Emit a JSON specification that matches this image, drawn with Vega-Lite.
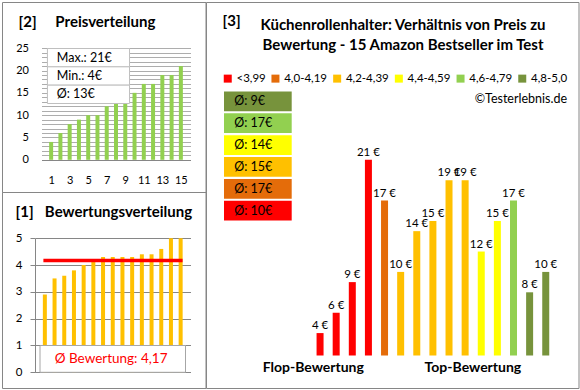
{
  "$schema": "https://vega.github.io/schema/vega-lite/v6.json",
  "padding": 1,
  "background": "white",
  "config": {
    "view": {"stroke": "#868686", "strokeWidth": 1},
    "font": "Lato",
    "axis": {"labelFont": "Lato", "labelColor": "#000000", "titleFont": "Lato", "titleColor": "#000000", "grid": false, "domain": false, "ticks": false, "title": null, "labelFlush": false, "labelOverlap": false, "labelBound": false},
    "title": {"font": "Lato", "fontWeight": "bold", "color": "#000000", "frame": "group"},
    "text": {"font": "Lato", "color": "#000000"}
  },
  "datasets": {
    "products": [
      {"rank": 1, "rating": 2.9, "price": 4, "cat": "<3,99", "label": "4 €"},
      {"rank": 2, "rating": 3.5, "price": 6, "cat": "<3,99", "label": "6 €"},
      {"rank": 3, "rating": 3.6, "price": 9, "cat": "<3,99", "label": "9 €"},
      {"rank": 4, "rating": 3.8, "price": 21, "cat": "<3,99", "label": "21 €"},
      {"rank": 5, "rating": 4.0, "price": 17, "cat": "4,0-4,19", "label": "17 €"},
      {"rank": 6, "rating": 4.2, "price": 10, "cat": "4,2-4,39", "label": "10 €"},
      {"rank": 7, "rating": 4.3, "price": 14, "cat": "4,2-4,39", "label": "14 €"},
      {"rank": 8, "rating": 4.3, "price": 15, "cat": "4,2-4,39", "label": "15 €"},
      {"rank": 9, "rating": 4.3, "price": 19, "cat": "4,2-4,39", "label": "19 €"},
      {"rank": 10, "rating": 4.3, "price": 19, "cat": "4,2-4,39", "label": "19 €"},
      {"rank": 11, "rating": 4.4, "price": 12, "cat": "4,4-4,59", "label": "12 €"},
      {"rank": 12, "rating": 4.4, "price": 15, "cat": "4,4-4,59", "label": "15 €"},
      {"rank": 13, "rating": 4.6, "price": 17, "cat": "4,6-4,79", "label": "17 €"},
      {"rank": 14, "rating": 5.0, "price": 8, "cat": "4,8-5,0", "label": "8 €"},
      {"rank": 15, "rating": 5.0, "price": 10, "cat": "4,8-5,0", "label": "10 €"}
    ],
    "pstats": [
      {"stat": "Max.: 21€"},
      {"stat": "Min.: 4€"},
      {"stat": "Ø: 13€"}
    ],
    "rstats": [
      {"label": "Ø Bewertung: 4,17", "mean": 4.17}
    ],
    "cats": [
      {"cat": "4,8-5,0", "avg": "Ø: 9€"},
      {"cat": "4,6-4,79", "avg": "Ø: 17€"},
      {"cat": "4,4-4,59", "avg": "Ø: 14€"},
      {"cat": "4,2-4,39", "avg": "Ø: 15€"},
      {"cat": "4,0-4,19", "avg": "Ø: 17€"},
      {"cat": "<3,99", "avg": "Ø: 10€"}
    ]
  },
  "hconcat": [
    {
      "vconcat": [
        {
          "width": 203.5,
          "height": 190,
          "title": {"text": "[2]\u2003\u2002Preisverteilung", "anchor": "start", "dx": 16.5, "offset": -28, "fontSize": 15},
          "layer": [
            {
              "data": {"name": "products"},
              "transform": [{"window": [{"op": "row_number", "as": "price_rank"}], "sort": [{"field": "price", "order": "ascending"}]}],
              "mark": {"type": "bar", "size": 4, "color": "#92D050"},
              "encoding": {
                "x": {"field": "price_rank", "type": "quantitative",
                  "scale": {"domain": [0.5, 15.5], "range": [39.5, 188.5], "nice": false, "zero": false},
                  "axis": {"values": [1, 3, 5, 7, 9, 11, 13, 15], "tickCount": 100, "format": "d", "offset": -32.2, "labelPadding": 15, "labelFontSize": 11, "labelOverlap": false, "labelFlush": false}},
                "y": {"field": "price", "type": "quantitative",
                  "scale": {"domain": [0, 25], "range": [157.8, 46.2], "nice": false},
                  "axis": {"values": [0,1,2,3,4,5,6,7,8,9,10,11,12,13,14,15,16,17,18,19,20,21,22,23,24,25], "tickCount": 100, "format": "d", "offset": -39.5, "labelPadding": 13, "labelFontSize": 11,
                    "labelOverlap": false,
                    "labelExpr": "datum.value % 5 === 0 ? datum.label : ''",
                    "grid": true, "gridColor": {"condition": {"test": "datum.value === 0", "value": "#868686"}, "value": "#ADADAD"}}}
              }
            },
            {
              "data": {"name": "pstats"},
              "encoding": {
                "y": {"field": "stat", "type": "nominal", "sort": null, "scale": {"range": [46.5, 101.5], "paddingInner": 0, "paddingOuter": 0}, "axis": null}
              },
              "layer": [
                {"mark": {"type": "rect", "fill": "white", "stroke": "#BFBFBF", "strokeWidth": 1},
                 "encoding": {"x": {"datum": 0.6, "type": "quantitative"}, "x2": {"datum": 9.46}}},
                {"mark": {"type": "text", "align": "left", "baseline": "middle", "fontSize": 12.5},
                 "encoding": {"x": {"datum": 1.61, "type": "quantitative"}, "text": {"field": "stat"}}}
              ]
            }
          ],
          "resolve": {"scale": {"y": "independent"}}
        },
        {
          "width": 203.5,
          "height": 196,
          "title": {"text": "[1]\u2003Bewertungsverteilung", "anchor": "start", "dx": 13.5, "offset": -28, "fontSize": 15},
          "layer": [
            {
              "data": {"name": "products"},
              "mark": {"type": "bar", "size": 4, "color": "#FFC000"},
              "encoding": {
                "x": {"field": "rank", "type": "quantitative",
                  "scale": {"domain": [0.5, 15.5], "range": [33, 188.5], "nice": false, "zero": false}, "axis": null},
                "y": {"field": "rating", "type": "quantitative",
                  "scale": {"domain": [0, 5], "range": [180.3, 46.2], "nice": false},
                  "axis": {"values": [0,0.25,0.5,0.75,1,1.25,1.5,1.75,2,2.25,2.5,2.75,3,3.25,3.5,3.75,4,4.25,4.5,4.75,5], "tickCount": 100, "format": "d",
                    "offset": -33, "labelPadding": 8, "labelFontSize": 11.5, "labelOverlap": false,
                    "labelExpr": "datum.value % 1 === 0 ? datum.label : ''",
                    "domain": true, "domainColor": "#868686",
                    "ticks": true, "tickSize": 5, "tickColor": "#868686",
                    "tickOpacity": {"condition": {"test": "datum.value % 1 === 0", "value": 1}, "value": 0},
                    "grid": true, "gridColor": {"condition": {"test": "datum.value % 1 === 0", "value": "#868686"}, "value": "#C8C8C8"}}}
              }
            },
            {
              "data": {"name": "rstats"},
              "mark": {"type": "rect", "fill": "white", "stroke": "#A6A6A6", "strokeWidth": 1},
              "encoding": {"x": {"datum": 0.5, "type": "quantitative"}, "x2": {"datum": 15.5}, "y": {"datum": 0, "type": "quantitative"}, "y2": {"datum": 1}}
            },
            {
              "data": {"name": "rstats"},
              "mark": {"type": "rule", "color": "#FF0000", "strokeWidth": 3.5},
              "encoding": {"x": {"datum": 0.85, "type": "quantitative"}, "x2": {"datum": 15.2}, "y": {"field": "mean", "type": "quantitative"}}
            },
            {
              "data": {"name": "rstats"},
              "mark": {"type": "text", "color": "#FF0000", "fontSize": 13.5, "align": "center", "baseline": "middle"},
              "encoding": {"x": {"datum": 7.83, "type": "quantitative"}, "y": {"datum": 0.5, "type": "quantitative"}, "text": {"field": "label"}}
            }
          ]
        }
      ],
      "spacing": 0,
      "bounds": "flush"
    },
    {
      "width": 372.5,
      "height": 386,
      "title": {"text": ["Küchenrollenhalter: Verhältnis von Preis zu", "Bewertung - 15 Amazon Bestseller im Test"], "anchor": "middle", "dx": 10.8, "offset": -51, "fontSize": 15, "lineHeight": 20},
      "layer": [
        {
          "data": {"name": "products"},
          "layer": [
            {
              "mark": {"type": "bar", "size": 7},
              "encoding": {
                "x": {"field": "rank", "type": "quantitative",
                  "scale": {"domain": [0.5, 15.5], "range": [101, 352.8], "nice": false, "zero": false},
                  "axis": {"values": [0.55, 10.45], "labelExpr": "datum.value < 5 ? 'Flop-Bewertung' : 'Top-Bewertung'",
                    "labelFlush": false, "labelOverlap": false, "labelBound": false,
                    "offset": -32.5, "labelPadding": 5, "labelFontSize": 14, "labelFontWeight": "bold"}},
                "y": {"field": "price", "type": "quantitative",
                  "scale": {"domain": [1.8, 21], "range": [353.5, 157.8], "nice": false, "zero": false},
                  "axis": {"labels": false, "title": "[3]", "titleAngle": 0, "titleAlign": "left", "titleBaseline": "top",
                    "titleX": 16, "titleY": 11.5, "titleFontSize": 15, "titleFontWeight": "bold"}},
                "y2": {"datum": 1.8},
                "color": {"field": "cat", "type": "nominal",
                  "scale": {"domain": ["<3,99", "4,0-4,19", "4,2-4,39", "4,4-4,59", "4,6-4,79", "4,8-5,0"],
                    "range": ["#FF0000", "#E46C0A", "#FFC000", "#FFFF00", "#92D050", "#77933C"]},
                  "legend": {"orient": "none", "legendX": 220, "legendY": 70.5, "direction": "horizontal", "gridAlign": "each",
                    "symbolType": "square", "symbolSize": 64, "symbolStrokeWidth": 0,
                    "labelFont": "Lato", "labelFontSize": 11.5, "labelColor": "#000000", "labelOffset": 3, "columnPadding": 3.7,
                    "title": "©Testerlebnis.de", "titleOrient": "bottom", "titleAnchor": "end",
                    "titleFont": "Lato", "titleFontWeight": "normal", "titleFontSize": 12.5, "titleColor": "#000000", "titlePadding": 8}}
              }
            },
            {
              "mark": {"type": "text", "baseline": "alphabetic", "dy": -4, "fontSize": 11.5},
              "encoding": {
                "x": {"field": "rank", "type": "quantitative"},
                "y": {"field": "price", "type": "quantitative"},
                "text": {"field": "label"}
              }
            }
          ]
        },
        {
          "data": {"name": "cats"},
          "encoding": {
            "y": {"field": "cat", "type": "nominal", "sort": null, "scale": {"range": [89.5, 218.5], "paddingInner": 0.1, "paddingOuter": 0}, "axis": null}
          },
          "layer": [
            {
              "mark": {"type": "rect"},
              "encoding": {
                "x": {"datum": 0, "type": "quantitative", "scale": {"domain": [0, 1], "range": [18, 85.7], "nice": false}, "axis": null},
                "x2": {"datum": 1},
                "color": {"field": "cat", "type": "nominal"}
              }
            },
            {
              "mark": {"type": "text", "align": "left", "baseline": "middle", "fontSize": 12.5},
              "encoding": {
                "x": {"datum": 0.15, "type": "quantitative"},
                "text": {"field": "avg"}
              }
            }
          ]
        }
      ],
      "resolve": {"scale": {"x": "independent", "y": "independent"}}
    }
  ],
  "spacing": -1,
  "bounds": "full"
}
